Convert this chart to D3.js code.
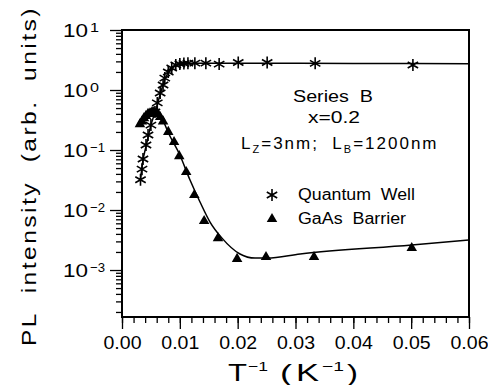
<!DOCTYPE html>
<html>
<head>
<meta charset="utf-8">
<script src="https://cdn.jsdelivr.net/npm/d3@7"></script>
<style>
  body { margin: 0; background: #fff; }
  text { font-family: "Liberation Sans", Arial, sans-serif; fill: #000; white-space: pre; }
</style>
</head>
<body>
<svg id="chart" width="488" height="385"></svg>
<script>
// Quantum well PL intensity vs inverse temperature (stars)
const qwInvT = [0.0032, 0.00346, 0.00363, 0.00415, 0.0045, 0.0050, 0.0057, 0.0061, 0.0066, 0.0071,
                0.0074, 0.0080, 0.0086, 0.0093, 0.0100, 0.0107, 0.0114, 0.0126, 0.0145, 0.0168,
                0.0201, 0.0251, 0.0334, 0.0503];
const qwPL   = [0.032, 0.048, 0.071, 0.121, 0.178, 0.26, 0.43, 0.61, 0.89, 1.21,
                1.58, 2.0, 2.33, 2.61, 2.71, 2.77, 2.8, 2.8, 2.8, 2.7,
                2.87, 2.87, 2.78, 2.61];

// GaAs barrier PL intensity (triangles)
const gaInvT = [0.0031, 0.00346, 0.0038, 0.00415, 0.0045, 0.00484, 0.0052, 0.0055, 0.0059, 0.0062,
                0.0066, 0.0071, 0.0080, 0.0090, 0.0099, 0.0111, 0.0125, 0.0142, 0.0166, 0.0199,
                0.0249, 0.0332, 0.0501];
const gaPL   = [0.27, 0.30, 0.34, 0.37, 0.40, 0.41, 0.43, 0.43, 0.41, 0.40,
                0.355, 0.30, 0.20, 0.136, 0.079, 0.043, 0.0178, 0.00656, 0.0034, 0.00153,
                0.00165, 0.00165, 0.00233];

// Model fit curves
const qwFitInvT = [0.0032, 0.0036, 0.0042, 0.0050, 0.0058, 0.0066, 0.0074, 0.0082, 0.0090, 0.0100,
                   0.0120, 0.0200, 0.0300, 0.0400, 0.0600];
const qwFitPL   = [0.032, 0.065, 0.12, 0.26, 0.45, 0.85, 1.5, 2.1, 2.5, 2.7,
                   2.8, 2.8, 2.78, 2.76, 2.75];
const gaFitInvT = [0.0030, 0.0040, 0.0050, 0.0056, 0.0063, 0.0071, 0.00795, 0.0100, 0.01176, 0.01349,
                   0.01522, 0.01729, 0.0204, 0.0230, 0.0251, 0.0308, 0.0501, 0.0600];
const gaFitPL   = [0.26, 0.35, 0.42, 0.44, 0.40, 0.31, 0.20, 0.0826, 0.0316, 0.0136,
                   0.0063, 0.0034, 0.00185, 0.00158, 0.00158, 0.00185, 0.00261, 0.00316];

const xTicks = [0, 0.01, 0.02, 0.03, 0.04, 0.05, 0.06];
const yDecades = [1e-3, 1e-2, 1e-1, 1, 10];
const yExponents = ["\u22123", "\u22122", "\u22121", "0", "1"];

const svg = d3.select("#chart");
const L = 122, R = 469, T = 30, B = 317;

const x = d3.scaleLinear().domain([0, 0.06]).range([L, R]);
const y = d3.scaleLog().domain([Math.pow(10, -3.783), 10]).range([B, T]);

// text helper: optional stretch to a fixed advance width
function label(px, py, str, size, opts = {}) {
  const t = svg.append("text").attr("x", px).attr("y", py).attr("font-size", size)
    .attr("text-anchor", opts.anchor || "start").text(str);
  if (opts.ls) t.attr("letter-spacing", opts.ls);
  if (opts.width) t.attr("textLength", opts.width).attr("lengthAdjust", "spacingAndGlyphs");
  if (opts.transform) t.attr("transform", opts.transform);
  return t;
}

// minor / major ticks
const xMinorVals = d3.range(0, 31).map(i => i * 0.002);
const yMinorVals = [];
for (let e = -4; e <= 0; e++) for (let m = 2; m <= 9; m++) {
  const v = m * Math.pow(10, e);
  if (v >= y.domain()[0] && v <= 10) yMinorVals.push(v);
}

function styleAxis(g) {
  g.select(".domain").remove();
  g.selectAll(".tick line").attr("stroke", "#000").attr("stroke-width", 1.3);
}

svg.append("g").attr("transform", `translate(0,${B})`)
  .call(d3.axisBottom(x).tickValues(xMinorVals).tickSize(6).tickFormat(""))
  .call(styleAxis);
const gx = svg.append("g").attr("transform", `translate(0,${B})`)
  .call(d3.axisBottom(x).tickValues(xTicks).tickSize(12).tickPadding(7).tickFormat(d3.format(".2f")))
  .call(styleAxis);
gx.selectAll("text").attr("font-family", "Liberation Sans, Arial, sans-serif")
  .attr("font-size", 18).attr("textLength", 38).attr("lengthAdjust", "spacingAndGlyphs").attr("fill", "#000");

svg.append("g").attr("transform", `translate(${L},0)`)
  .call(d3.axisLeft(y).tickValues(yMinorVals).tickSize(6).tickFormat(""))
  .call(styleAxis);
svg.append("g").attr("transform", `translate(${L},0)`)
  .call(d3.axisLeft(y).tickValues(yDecades).tickSize(12).tickFormat(""))
  .call(styleAxis);

// decade labels 10^n
yDecades.forEach((v, i) => {
  const yy = y(v);
  label(63, yy + 7, "10", 18, { width: 25 });
  label(90, yy + 2, yExponents[i], 13, { width: yExponents[i].length > 1 ? 15 : 9 });
});

// frame
svg.append("rect").attr("x", L).attr("y", T).attr("width", R - L).attr("height", B - T)
  .attr("fill", "none").attr("stroke", "#000").attr("stroke-width", 2);

// fit curves
const line = d3.line().x(d => x(d[0])).y(d => y(d[1])).curve(d3.curveMonotoneX);
svg.append("path").datum(qwFitInvT.map((v, i) => [v, qwFitPL[i]]))
  .attr("d", line).attr("fill", "none").attr("stroke", "#000").attr("stroke-width", 1.5);
svg.append("path").datum(gaFitInvT.map((v, i) => [v, gaFitPL[i]]))
  .attr("d", line).attr("fill", "none").attr("stroke", "#000").attr("stroke-width", 1.5);

// markers
const starPath = "M0,-6L0,6M-5.2,-3L5.2,3M-5.2,3L5.2,-3";
const triPath = d3.symbol().type(d3.symbolTriangle).size(48)();

svg.append("g").selectAll("path").data(gaInvT.map((v, i) => [v, gaPL[i]])).join("path")
  .attr("d", triPath).attr("transform", d => `translate(${x(d[0])},${y(d[1])})`).attr("fill", "#000");
svg.append("g").selectAll("path").data(qwInvT.map((v, i) => [v, qwPL[i]])).join("path")
  .attr("d", starPath).attr("transform", d => `translate(${x(d[0])},${y(d[1])})`)
  .attr("stroke", "#000").attr("stroke-width", 1.6).attr("fill", "none");

// annotation
label(333, 102, "Series  B", 16, { anchor: "middle", width: 80 });
label(334, 123, "x=0.2", 16, { anchor: "middle", width: 52 });
const ann = svg.append("text").attr("x", 241).attr("y", 149).attr("font-size", 17).attr("letter-spacing", 2);
ann.append("tspan").text("L");
ann.append("tspan").attr("font-size", 11).attr("dy", 4).text("Z");
ann.append("tspan").attr("dy", -4).text("=3nm;  L");
ann.append("tspan").attr("font-size", 11).attr("dy", 4).text("B");
ann.append("tspan").attr("dy", -4).text("=1200nm");

// legend
svg.append("path").attr("d", starPath).attr("transform", "translate(272,195)")
  .attr("stroke", "#000").attr("stroke-width", 1.6).attr("fill", "none");
svg.append("path").attr("d", triPath).attr("transform", "translate(272,219)").attr("fill", "#000");
label(298, 200, "Quantum  Well", 16, { width: 117 });
label(298, 224, "GaAs  Barrier", 16, { width: 108 });

// axis titles
label(0, 0, "PL  intensity  (arb.  units)", 20,
  { anchor: "middle", ls: 2, width: 340, transform: "translate(36,176) rotate(-90)" });

label(228, 381, "T", 24, { width: 19 });
label(248, 371, "\u22121", 13, { width: 20 });
label(280, 381, "(", 24, { width: 12 });
label(296, 381, "K", 24, { width: 23 });
label(322, 371, "\u22121", 13, { width: 22 });
label(347, 381, ")", 24, { width: 11 });
</script>
</body>
</html>
